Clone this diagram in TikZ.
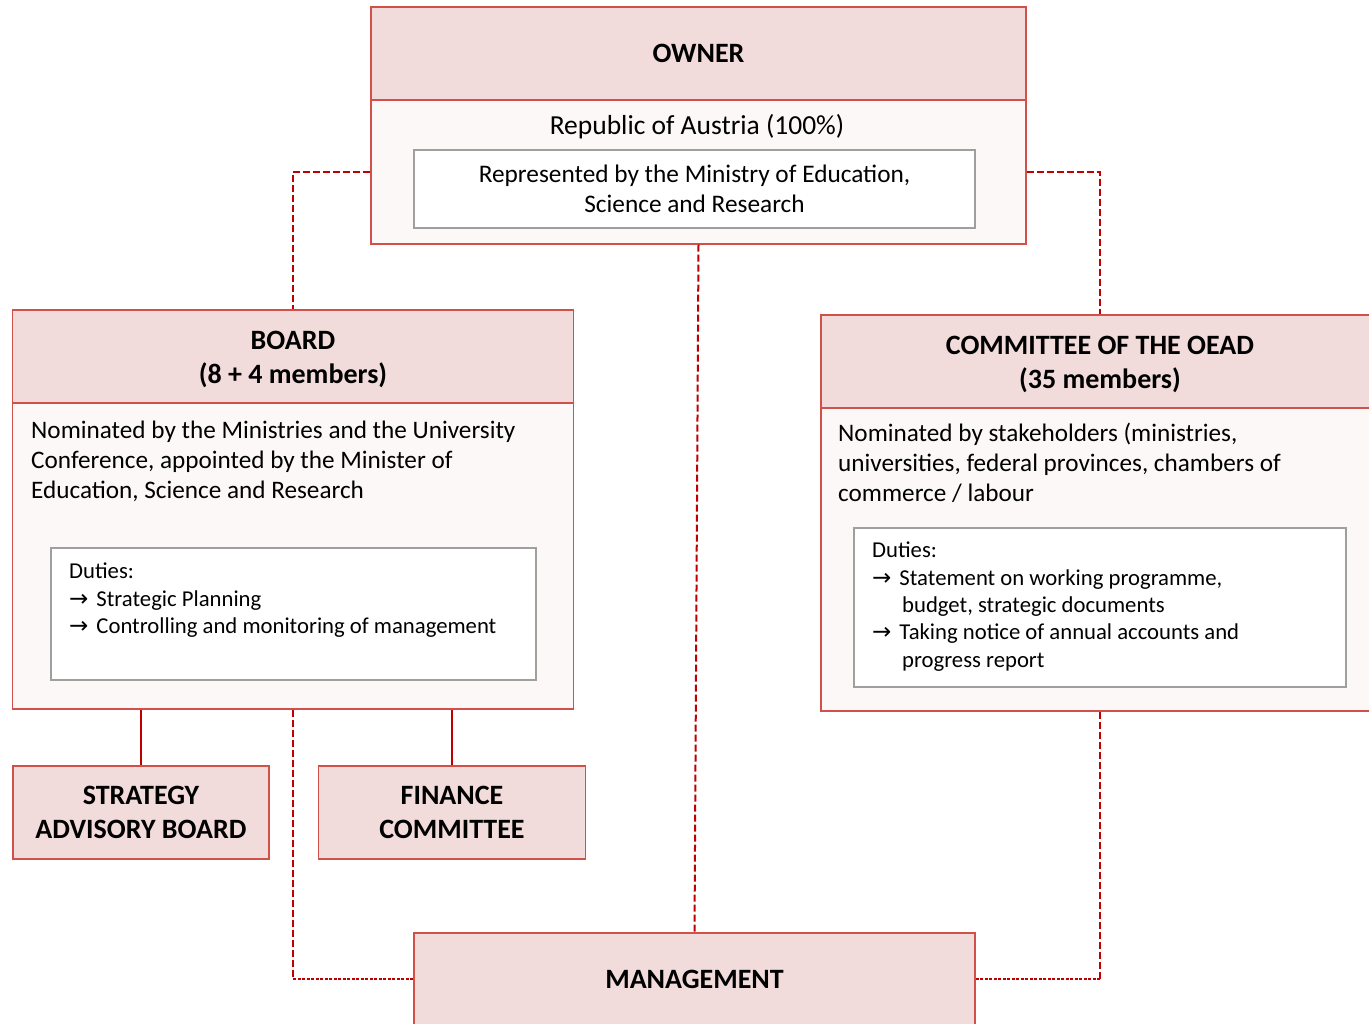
\documentclass[tikz,border=0pt]{standalone}
\usepackage{fontspec}
\setmainfont{Carlito}
\newfontfamily\arrowfont{DejaVu Sans}
\usepackage{xcolor}
\usepackage{tikz}

\definecolor{boxred}{HTML}{D2504A}
\definecolor{linkred}{HTML}{C00000}
\definecolor{hdrpink}{HTML}{F2DCDB}
\definecolor{bodypink}{HTML}{FCF8F8}
\newcommand{\hdrfont}{\bfseries\fontsize{28}{34}\selectfont}
\newcommand{\bodyfont}{\fontsize{25.2}{30}\selectfont}
\newcommand{\repfont}{\fontsize{25.3}{30}\selectfont}
\newcommand{\dutyfont}{\fontsize{22.7}{27.3}\selectfont}
\newcommand{\arr}{{\arrowfont\fontsize{23}{27}\selectfont →}\hspace{8pt}}
\newcommand{\hdrstrut}{\rule{0pt}{24pt}}

\tikzset{
	hdr/.style={draw=boxred,line width=1.3,fill=hdrpink,font=\hdrfont,align=center,inner sep=0},
	bodybox/.style={draw=boxred,line width=1.3,fill=bodypink,inner sep=0},
	dutybox/.style={draw=gray!75,line width=1.2,fill=white,inner sep=0},
	txt/.style={inner sep=0,align=left,anchor=north west},
	solidlink/.style={draw=linkred,line width=2},
	dashlink/.style={draw=linkred,line width=2,dash pattern=on 7 off 3},
	dotlink/.style={draw=linkred,line width=2.8,dash pattern=on 3 off 1.5}
}

\begin{document}
\begin{tikzpicture}[x=1pt,y=-1pt]
		\clip (0,0) rectangle (1369,1024);
		\fill[white] (0,0) rectangle (1369,1024);

		\node[bodybox,minimum width=655,minimum height=144] (ownerbody) at (698.5,172) {};
		\node[hdr,minimum width=655,minimum height=93] (owner) at (698.5,53.5) {OWNER};
		\node[inner sep=0,font=\fontsize{27.5}{30}\selectfont] (ownertxt) at (697,127) {Republic of Austria (100\%)};
		\node[dutybox,minimum width=561,minimum height=78,font=\repfont,align=center] (ownerrep) at (694.5,189) {Represented by the Ministry of Education,\\Science and Research};

		\node[bodybox,minimum width=561,minimum height=306] (boardbody) at (293,556) {};
		\node[hdr,minimum width=561,minimum height=93] (board) at (293,356.5) {\hdrstrut BOARD\\(8 + 4 members)};
		\node[txt,font=\bodyfont] (boardtxt) at (31,421) {Nominated by the Ministries and the University\\Conference, appointed by the Minister of\\Education, Science and Research};
		\node[dutybox,minimum width=485,minimum height=132] (boarddut) at (293.5,614) {};
		\node[txt,font=\dutyfont] (boarddtxt) at (69,563) {Duties:\\\arr Strategic Planning\\\arr Controlling and monitoring of management};

		\node[bodybox,minimum width=558,minimum height=303] (commbody) at (1100,559.5) {};
		\node[hdr,minimum width=558,minimum height=93] (comm) at (1100,361.5) {\hdrstrut COMMITTEE OF THE OEAD\\(35 members)};
		\node[txt,font=\bodyfont] (commtxt) at (838,423) {Nominated by stakeholders (ministries,\\universities, federal provinces, chambers of\\commerce / labour};
		\node[dutybox,minimum width=492,minimum height=159] (commdut) at (1100,607.5) {};
		\node[txt,font=\dutyfont] (commdtxt) at (872,542) {Duties:\\\arr Statement on working programme,\\\hspace*{30pt}budget, strategic documents\\\arr Taking notice of annual accounts and\\\hspace*{30pt}progress report};

		\node[hdr,minimum width=256,minimum height=93] (strat) at (141,812.5) {STRATEGY\\ADVISORY BOARD};
		\node[hdr,minimum width=267,minimum height=93] (fin) at (452,812.5) {FINANCE\\COMMITTEE};
		\node[hdr,minimum width=561,minimum height=92] (mgmt) at (694.5,979) {MANAGEMENT};

		\draw[dashlink] (ownerbody.west) -| (board.north);
		\draw[dashlink] (ownerbody.east) -| (comm.north);
		\draw[dashlink] (ownerbody.south) -- (mgmt.north);
		\draw[solidlink] (boardbody.south -| strat.north) -- (strat.north);
		\draw[solidlink] (boardbody.south -| fin.north) -- (fin.north);
		\coordinate (bcorner) at (boardbody.south |- mgmt.west);
		\coordinate (ccorner) at (commbody.south |- mgmt.east);
		\draw[dashlink] (boardbody.south) -- (bcorner);
		\draw[dotlink] (bcorner) -- (mgmt.west);
		\draw[dashlink] (commbody.south) -- (ccorner);
		\draw[dotlink] (ccorner) -- (mgmt.east);
	\end{tikzpicture}
\end{document}
